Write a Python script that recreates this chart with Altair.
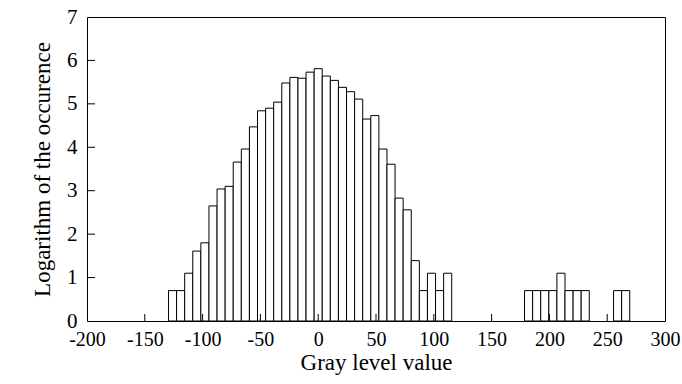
import altair as alt
import pandas as pd

# Bin centres (bin width 7 gray levels) and log-occurrence heights
main_centers = [-126, -119, -112, -105, -98, -91, -84, -77, -70, -63, -56, -49, -42, -35,
                -28, -21, -14, -7, 0, 7, 14, 21, 28, 35, 42, 49, 56, 63, 70, 77, 84, 91,
                98, 105, 112]
main_heights = [0.70, 0.70, 1.10, 1.61, 1.80, 2.65, 3.04, 3.10, 3.66, 3.96, 4.47, 4.84,
                4.90, 5.04, 5.48, 5.61, 5.59, 5.73, 5.81, 5.64, 5.54, 5.38, 5.28, 5.11,
                4.65, 4.73, 3.96, 3.61, 2.83, 2.56, 1.39, 0.70, 1.10, 0.70, 1.10]
tail_centers = [182, 189, 196, 203, 210, 217, 224, 231, 259, 266]
tail_heights = [0.70, 0.70, 0.70, 0.70, 1.10, 0.70, 0.70, 0.70, 0.70, 0.70]
bin_width = 7

x_ticks = [-200, -150, -100, -50, 0, 50, 100, 150, 200, 250, 300]
y_ticks = [0, 1, 2, 3, 4, 5, 6, 7]
x_inner_ticks = [-150, -100, -50, 0, 50, 100, 150, 200, 250]
y_inner_ticks = [1, 2, 3, 4, 5, 6]

centers = main_centers + tail_centers
heights = main_heights + tail_heights
bars = pd.DataFrame({
    "x0": [c - bin_width / 2 for c in centers],
    "x1": [c + bin_width / 2 for c in centers],
    "h": heights,
})

FONT = "Liberation Serif"
W, H = 578, 304

xscale = alt.Scale(domain=[-200, 300], nice=False, zero=False)
yscale = alt.Scale(domain=[0, 7], nice=False)

bar_layer = alt.Chart(bars).mark_bar(
    fill="white", stroke="black", strokeWidth=1
).encode(
    x=alt.X("x0:Q", scale=xscale,
            axis=alt.Axis(values=x_ticks, labelExpr="'' + datum.value",
                          title="Gray level value",
                          grid=False, ticks=False, domain=False, labelPadding=8,
                          labelFontSize=20, titleFontSize=23, labelFont=FONT,
                          titleFont=FONT, labelColor="black", titleColor="black",
                          titleFontWeight="normal", titlePadding=2,
                          labelFlush=False)),
    x2="x1:Q",
    y=alt.Y("h:Q", scale=yscale,
            axis=alt.Axis(values=y_ticks, labelExpr="'' + datum.value",
                          title="Logarithm of the occurence",
                          grid=False, ticks=False, domain=False, labelPadding=10,
                          labelFontSize=21, titleFontSize=23, labelFont=FONT,
                          titleFont=FONT, labelColor="black", titleColor="black",
                          titleFontWeight="normal", titlePadding=12,
                          labelFlush=False)),
    y2=alt.datum(0),
)

xt = alt.Chart(pd.DataFrame({"v": x_inner_ticks})).mark_rule(
    color="black", strokeWidth=1
).encode(
    x=alt.X("v:Q", scale=xscale),
    y=alt.value(H),
    y2=alt.value(H - 7),
)

yt = alt.Chart(pd.DataFrame({"v": y_inner_ticks})).mark_rule(
    color="black", strokeWidth=1
).encode(
    y=alt.Y("v:Q", scale=yscale),
    x=alt.value(0),
    x2=alt.value(8),
)

chart = alt.layer(bar_layer, xt, yt).properties(
    width=W, height=H,
    autosize=alt.AutoSizeParams(type="none"),
    padding={"left": 87, "top": 17, "right": 682 - 87 - W, "bottom": 384 - 17 - H},
    background="white",
).configure_view(
    stroke="black", strokeWidth=1
)

chart.save("out.html", embed_options={"renderer": "svg", "actions": False})
